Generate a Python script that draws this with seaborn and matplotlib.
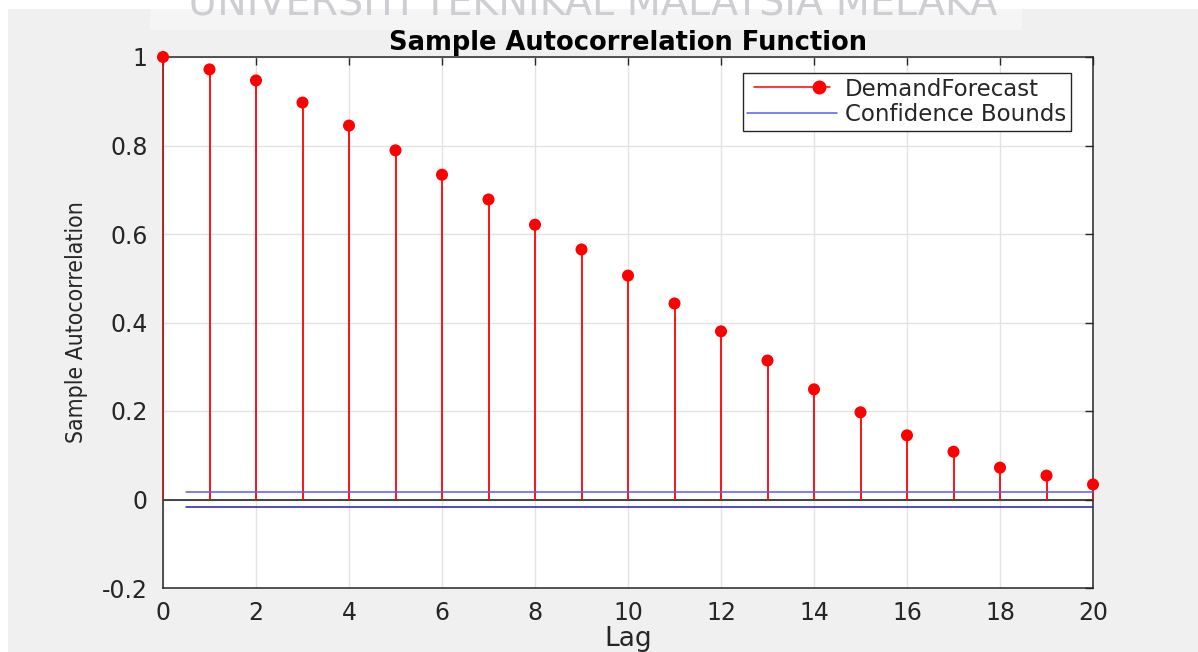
import numpy as np
import pandas as pd
import matplotlib
matplotlib.use("Agg")
import matplotlib.pyplot as plt
import seaborn as sns
from matplotlib.lines import Line2D
from matplotlib.legend_handler import HandlerLine2DCompound
from matplotlib.patches import Rectangle
from matplotlib import font_manager as fm

lags = list(range(0, 21))
acf = [1.0, 0.972, 0.947, 0.897, 0.845, 0.789, 0.734, 0.678, 0.621, 0.565,
       0.506, 0.443, 0.380, 0.314, 0.249, 0.197, 0.145, 0.108, 0.072, 0.054, 0.034]
bound_x = [0.5, 20]
upper_bound = [0.018, 0.018]
lower_bound = [-0.018, -0.018]
xticks = list(range(0, 21, 2))
yticks = [-0.2, 0, 0.2, 0.4, 0.6, 0.8, 1]
ytick_labels = ["-0.2", "0", "0.2", "0.4", "0.6", "0.8", "1"]

sns.set_theme(style="white")
plt.rcParams['font.family'] = ['DejaVu Sans']

# condensed font for the rotated y label if available
cond = [f.fname for f in fm.fontManager.ttflist
        if 'condensed' in f.fname.lower() and 'dejavusans' in f.fname.lower().replace('-', '')
        and 'bold' not in f.fname.lower() and 'oblique' not in f.fname.lower()
        and 'mono' not in f.fname.lower()]
if cond:
    ylab_prop = fm.FontProperties(fname=cond[0], size=16.5)
else:
    ylab_prop = fm.FontProperties(family='Liberation Sans', size=16.5)

fig = plt.figure(figsize=(11.98, 6.52), dpi=100, facecolor="white")
fig.patches.append(Rectangle((8 / 1198, 0), 1, 1 - 9 / 652, transform=fig.transFigure,
                             facecolor="#f0f0f0", edgecolor="none", zorder=-10))
fig.patches.append(Rectangle((150 / 1198, 1 - 30 / 652), (1022 - 150) / 1198, 21 / 652,
                             transform=fig.transFigure,
                             facecolor="#f5f5f5", edgecolor="none", zorder=-9))
fig.text(593 / 1198, 1 - 16 / 652, "UNIVERSITI TEKNIKAL MALAYSIA MELAKA", ha="center",
         va="baseline", fontsize=28.5, fontweight="medium", color="#cdcdd2", zorder=-5)

ax = fig.add_axes([163 / 1198, 1 - 588 / 652, (1093 - 163) / 1198, (588 - 57) / 652])
ax.set_facecolor("white")

df = pd.DataFrame({"Lag": lags, "ACF": acf})
ax.vlines(df["Lag"], 0, df["ACF"], color="#ff0000", linewidth=1.3, zorder=3)
sns.scatterplot(data=df, x="Lag", y="ACF", ax=ax, color="#ff0000", s=75, edgecolor="none",
                zorder=4, clip_on=False, legend=False)
ax.axhline(0, color="#262626", linewidth=1.2, zorder=2)

bdf = pd.DataFrame({"x": bound_x * 2, "y": upper_bound + lower_bound,
                    "b": ["u", "u", "l", "l"]})
sns.lineplot(data=bdf[bdf.b == "u"], x="x", y="y", ax=ax, color="#5a5aff", linewidth=1.1,
             zorder=3, legend=False)
sns.lineplot(data=bdf[bdf.b == "l"], x="x", y="y", ax=ax, color="#1e1eb4", linewidth=1.1,
             zorder=3, legend=False)

ax.set_xlim(0, 20)
ax.set_ylim(-0.2, 1)
ax.set_xticks(xticks)
ax.set_yticks(yticks)
ax.set_yticklabels(ytick_labels)
ax.grid(True, color="#e3e3e3", linewidth=1)
ax.set_axisbelow(True)
ax.tick_params(direction="in", length=6, width=1, color="#262626", top=True, right=True,
               labelsize=17, labelcolor="#262626")
ax.tick_params(axis="x", pad=9)
ax.tick_params(axis="y", pad=11)
for s in ax.spines.values():
    s.set_color("#262626")
    s.set_linewidth(1.1)

ax.set_xlabel("Lag", fontsize=19, color="#262626", labelpad=1)
ax.set_ylabel("Sample Autocorrelation", fontproperties=ylab_prop, color="#262626", labelpad=10)
ax.set_title("Sample Autocorrelation Function", fontsize=18.5, fontweight="bold",
             color="black", pad=5)


class StemHandler(HandlerLine2DCompound):
    def get_xdata(self, legend, xdescent, ydescent, width, height, fontsize):
        xdata, _ = super().get_xdata(legend, xdescent, ydescent, width, height, fontsize)
        return xdata, np.array([xdata[-1] - 0.12 * width])


h1 = Line2D([], [], color="#ff0000", linewidth=1.1, marker="o", markersize=9)
h2 = Line2D([], [], color="#5a5aff", linewidth=1.1)
leg = ax.legend([h1, h2], ["DemandForecast", "Confidence Bounds"], loc="upper right",
                bbox_to_anchor=(0.976, 0.97), fontsize=16.5, frameon=True, fancybox=False,
                handlelength=3.9, handletextpad=0.35, borderpad=0.2, labelspacing=0.12,
                borderaxespad=0, handler_map={h1: StemHandler(numpoints=2)})
leg.get_frame().set_edgecolor("#262626")
leg.get_frame().set_linewidth(1.0)
leg.get_frame().set_facecolor("white")
leg.get_frame().set_alpha(1)

fig.savefig("out.png", dpi=100, facecolor=fig.get_facecolor())
